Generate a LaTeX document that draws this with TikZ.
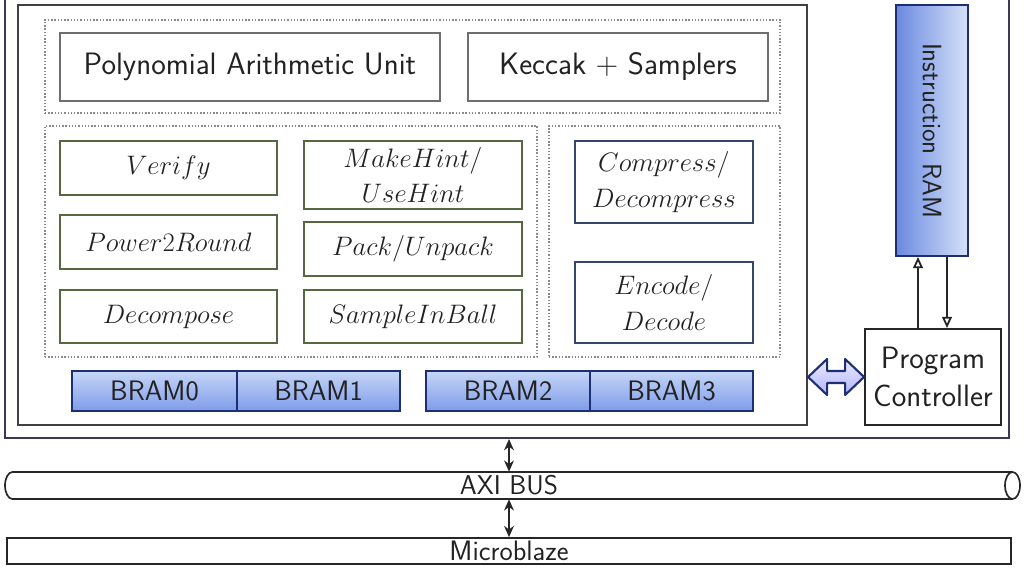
\RequirePackage{fix-cm}
\documentclass[tikz,border=0pt]{standalone}
\usetikzlibrary{arrows.meta,calc}
\definecolor{txt}{HTML}{222222}
\definecolor{grn}{HTML}{56683F}
\definecolor{bgr}{HTML}{34466A}
\definecolor{gry}{HTML}{6E6E6E}
\definecolor{dotc}{HTML}{8A8A8A}
\definecolor{frame}{HTML}{3A3A58}
\definecolor{navy}{HTML}{1E2E72}
\definecolor{bramtop}{HTML}{C6D6F7}
\definecolor{brambot}{HTML}{7E9CEA}
\definecolor{ramL}{HTML}{6A8AE0}
\definecolor{ramR}{HTML}{D6E1F8}
\tikzset{
  bx/.style 2 args={minimum width=#1*0.25mm, minimum height=#2*0.25mm, inner sep=0pt, text=txt},
  sans/.style={font=\fontsize{22}{26}\selectfont\sffamily},
  mth/.style={font=\fontsize{19}{26}\selectfont, align=center},
  grbox/.style={draw=grn, line width=1.4pt, mth},
  blbox/.style={draw=bgr, line width=1.4pt, mth},
  gybox/.style={draw=gry, line width=1.4pt, sans},
  grp/.style={draw=dotc, line width=1pt, dash pattern=on 1pt off 1.3pt},
  bram/.style={draw=navy, line width=1.3pt, top color=bramtop, bottom color=brambot, font=\fontsize{20}{24}\selectfont\sffamily},
  thin/.style={draw=black!85, line width=1.3pt},
}
\begin{document}
\begin{tikzpicture}[x=0.025cm, y=-0.025cm]
\useasboundingbox (0,0) rectangle (1024,576);
% outer frame
\node[bx={1004}{450}, draw=frame, line width=1.4pt] (outer) at (507,213) {};
% accelerator
\node[bx={789}{420}, draw=black!75, line width=1.4pt] (acc) at (412.5,215) {};
% groups
\node[bx={735}{93}, grp] (gtop) at (412.5,66.5) {};
\node[bx={492}{231}, grp] (gleft) at (291,241.5) {};
\node[bx={231}{231}, grp] (gright) at (664.5,241.5) {};
% top units
\node[bx={380}{68}, gybox] (pau) at (250,67) {Polynomial Arithmetic Unit};
\node[bx={300}{68}, gybox] (kec) at (618,67) {Keccak $+$ Samplers};
% left group
\node[bx={217}{54}, grbox] (ver) at (168.5,168) {$Verify$};
\node[bx={217}{54}, grbox] (p2r) at (168.5,242) {$Power2Round$};
\node[bx={217}{53}, grbox] (dec) at (168.5,316.5) {$Decompose$};
\node[bx={218}{68}, grbox] (mh) at (413,175) {$MakeHint/$\\[-1pt]$UseHint$};
\node[bx={218}{54}, grbox] (pk) at (413,249) {$Pack/Unpack$};
\node[bx={218}{53}, grbox] (sib) at (413,316.5) {$SampleInBall$};
% right group
\node[bx={178}{82}, blbox] (cmp) at (664,182) {$Compress/$\\$Decompress$};
\node[bx={178}{81}, blbox] (enc) at (664,302.5) {$Encode/$\\$Decode$};
% BRAMs
\node[bx={165}{40}, bram] (b0) at (154.5,391) {BRAM0};
\node[bx={163}{40}, bram] (b1) at (318.5,391) {BRAM1};
\node[bx={164}{40}, bram] (b2) at (508,391) {BRAM2};
\node[bx={163}{40}, bram] (b3) at (671.5,391) {BRAM3};
% instruction RAM
\node[bx={72}{251}, draw=navy, line width=1.3pt, left color=ramL, right color=ramR] (iram) at (932,130.5) {};
\node[rotate=-90, text=txt, font=\fontsize{19}{23}\selectfont\sffamily] (iramt) at (iram.center) {Instruction RAM};
% program controller
\node[bx={136}{96}, thin, align=center, font=\fontsize{22}{27}\selectfont\sffamily] (pc) at (933,377) {Program\\Controller};
% arrows iram <-> pc
\draw[thin, -{Triangle[open,length=8pt,width=7pt]}] ([xshift=-3.75mm]pc.north) -- ([xshift=-3.75mm]pc.north |- iram.south);
\draw[thin, -{Triangle[open,length=8pt,width=7pt]}] ([xshift=3.5mm]pc.north |- iram.south) -- ([xshift=3.5mm]pc.north);
% fat double arrow acc <-> pc
\coordinate (dl) at (acc.east |- pc.west);
\coordinate (dr) at (pc.west);
\draw[draw=navy, line width=1.5pt, top color=blue!8, bottom color=blue!30, line join=round]
  (dl) -- ++(19,-18) -- ++(0,12) -- ($(dr)+(-19,-6)$) -- ++(0,-12) -- (dr)
  -- ++(-19,18) -- ++(0,-12) -- ($(dl)+(19,6)$) -- ++(0,12) -- cycle;
% AXI bus
\node[bx={1000}{27}, font=\fontsize{19.3}{22}\selectfont\sffamily] (axi) at (509,485.5) {AXI BUS};
\draw[thin, line width=1.2pt] (1012.5,472) -- (12.5,472) arc[start angle=90, end angle=270, x radius=7.5, y radius=-13.5] -- (1012.5,499);
\draw[thin, line width=1.2pt] (1012.5,485.5) ellipse[x radius=7.5, y radius=13.5];
% Microblaze
\node[bx={1004}{26}, thin, line width=1.2pt, font=\fontsize{20}{22}\selectfont\sffamily] (mb) at (509,551) {Microblaze};
% vertical bus arrows
\draw[thin, {Stealth[length=8pt,width=7pt]}-{Stealth[length=8pt,width=7pt]}] (outer.south -| mb.north) -- (axi.north -| mb.north);
\draw[thin, {Stealth[length=8pt,width=7pt]}-{Stealth[length=8pt,width=7pt]}] (axi.south -| mb.north) -- (mb.north);
\end{tikzpicture}
\end{document}
